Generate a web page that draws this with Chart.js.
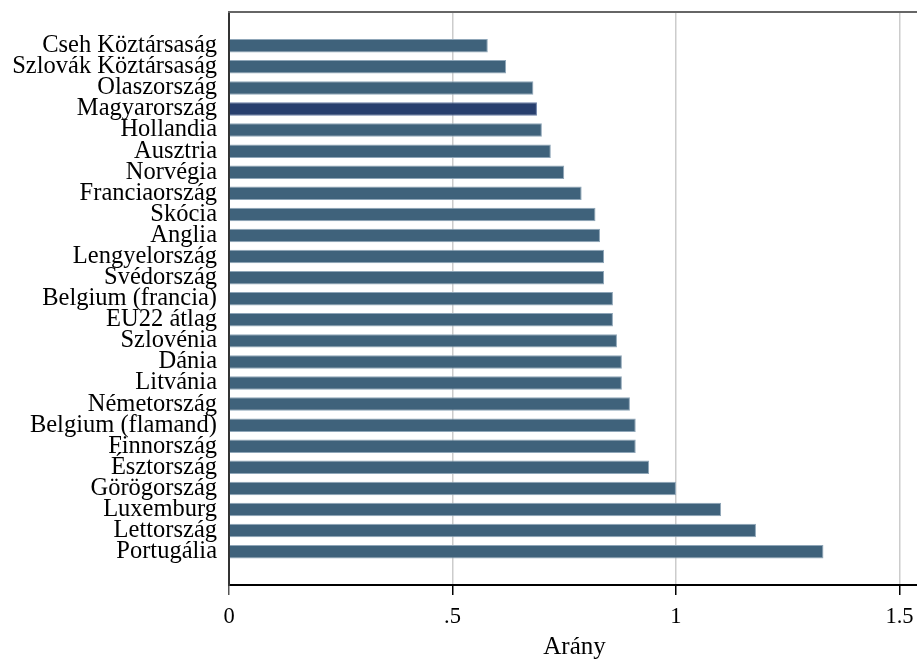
<!DOCTYPE html>
<html>
<head>
<meta charset="utf-8">
<script src="https://cdn.jsdelivr.net/npm/chart.js@4"></script>
<style>
    html, body { margin: 0; padding: 0; background: #fff; overflow: hidden; }
    #wrap { width: 920px; height: 662px; }
</style>
</head>
<body>
<div id="wrap"><canvas id="arany"></canvas></div>
<script>
// Országok (felülről lefelé)
const categories = [
    'Cseh Köztársaság', 'Szlovák Köztársaság', 'Olaszország', 'Magyarország',
    'Hollandia', 'Ausztria', 'Norvégia', 'Franciaország', 'Skócia', 'Anglia',
    'Lengyelország', 'Svédország', 'Belgium (francia)', 'EU22 átlag', 'Szlovénia',
    'Dánia', 'Litvánia', 'Németország', 'Belgium (flamand)', 'Finnország',
    'Észtország', 'Görögország', 'Luxemburg', 'Lettország', 'Portugália'
];

// Arány értékek
const values = [
    0.579, 0.620, 0.681, 0.689, 0.700, 0.720, 0.750, 0.789, 0.820, 0.830,
    0.839, 0.839, 0.859, 0.859, 0.868, 0.879, 0.879, 0.897, 0.910, 0.910,
    0.940, 1.000, 1.101, 1.179, 1.330
];

// X tengely jelölései
const xTicks = [0, 0.5, 1, 1.5];
const xTickLabels = ['0', '.5', '1', '1.5'];

const highlight = 'Magyarország';

// felső keretvonal
const topFrame = {
    id: 'topFrame',
    afterDraw: function (chart) {
        const a = chart.chartArea;
        const ctx = chart.ctx;
        ctx.save();
        ctx.strokeStyle = '#666666';
        ctx.lineWidth = 2;
        ctx.beginPath();
        ctx.moveTo(a.left - 1, a.top);
        ctx.lineTo(chart.width, a.top);
        ctx.stroke();
        ctx.restore();
    }
};

const serif = '"Liberation Serif", "Times New Roman", serif';

new Chart(document.getElementById('arany'), {
    type: 'bar',
    data: {
        datasets: [{
            data: values.map((v, i) => ({ x: v, y: i })),
            backgroundColor: categories.map(c => c === highlight ? '#283f6e' : '#3f627b'),
            borderColor: categories.map(c => c === highlight ? '#6a7fa6' : '#8fa6b8'),
            borderWidth: 1,
            barPercentage: 0.64,
            categoryPercentage: 1
        }]
    },
    options: {
        indexAxis: 'y',
        responsive: true,
        maintainAspectRatio: false,
        animation: false,
        layout: { padding: 0 },
        plugins: {
            legend: { display: false },
            tooltip: { enabled: false }
        },
        scales: {
            x: {
                type: 'linear',
                min: 0,
                max: 1.546,
                afterBuildTicks: function (scale) {
                    scale.ticks = xTicks.map(v => ({ value: v }));
                },
                afterFit: function (scale) {
                    scale.height = 77;
                    scale.paddingRight = 0;
                    scale.paddingLeft = 0;
                },
                ticks: {
                    color: '#000',
                    includeBounds: false,
                    font: { family: serif, size: 22.5 },
                    padding: 9,
                    maxRotation: 0,
                    callback: function (v) {
                        const i = xTicks.indexOf(v);
                        return i >= 0 ? xTickLabels[i] : '';
                    }
                },
                grid: {
                    color: ctx => (ctx.tick && xTicks.indexOf(ctx.tick.value) > 0) ? '#cccccc' : 'rgba(0,0,0,0)',
                    tickColor: ctx => (ctx.tick && ctx.tick.value === 0) ? '#555555' : '#000000',
                    tickLength: 10,
                    lineWidth: 1.5
                },
                border: { color: '#000', width: 2 },
                title: {
                    display: true,
                    text: 'Arány',
                    color: '#000',
                    font: { family: serif, size: 25 },
                    padding: { top: 5, bottom: 0 }
                }
            },
            y: {
                type: 'linear',
                reverse: true,
                offset: false,
                min: -1.6,
                max: 25.58,
                afterBuildTicks: function (scale) {
                    scale.ticks = categories.map((c, i) => ({ value: i }));
                },
                afterFit: function (scale) {
                    scale.width = 229;
                    scale.paddingTop = 12;
                    scale.paddingBottom = 0;
                },
                ticks: {
                    color: '#000',
                    font: { family: serif, size: 24.5 },
                    padding: 12,
                    autoSkip: false,
                    callback: function (v) {
                        return categories[v] || '';
                    }
                },
                grid: { display: false, drawTicks: false, offset: false },
                border: { color: '#333333', width: 2 }
            }
        }
    },
    plugins: [topFrame]
});
</script>
</body>
</html>
